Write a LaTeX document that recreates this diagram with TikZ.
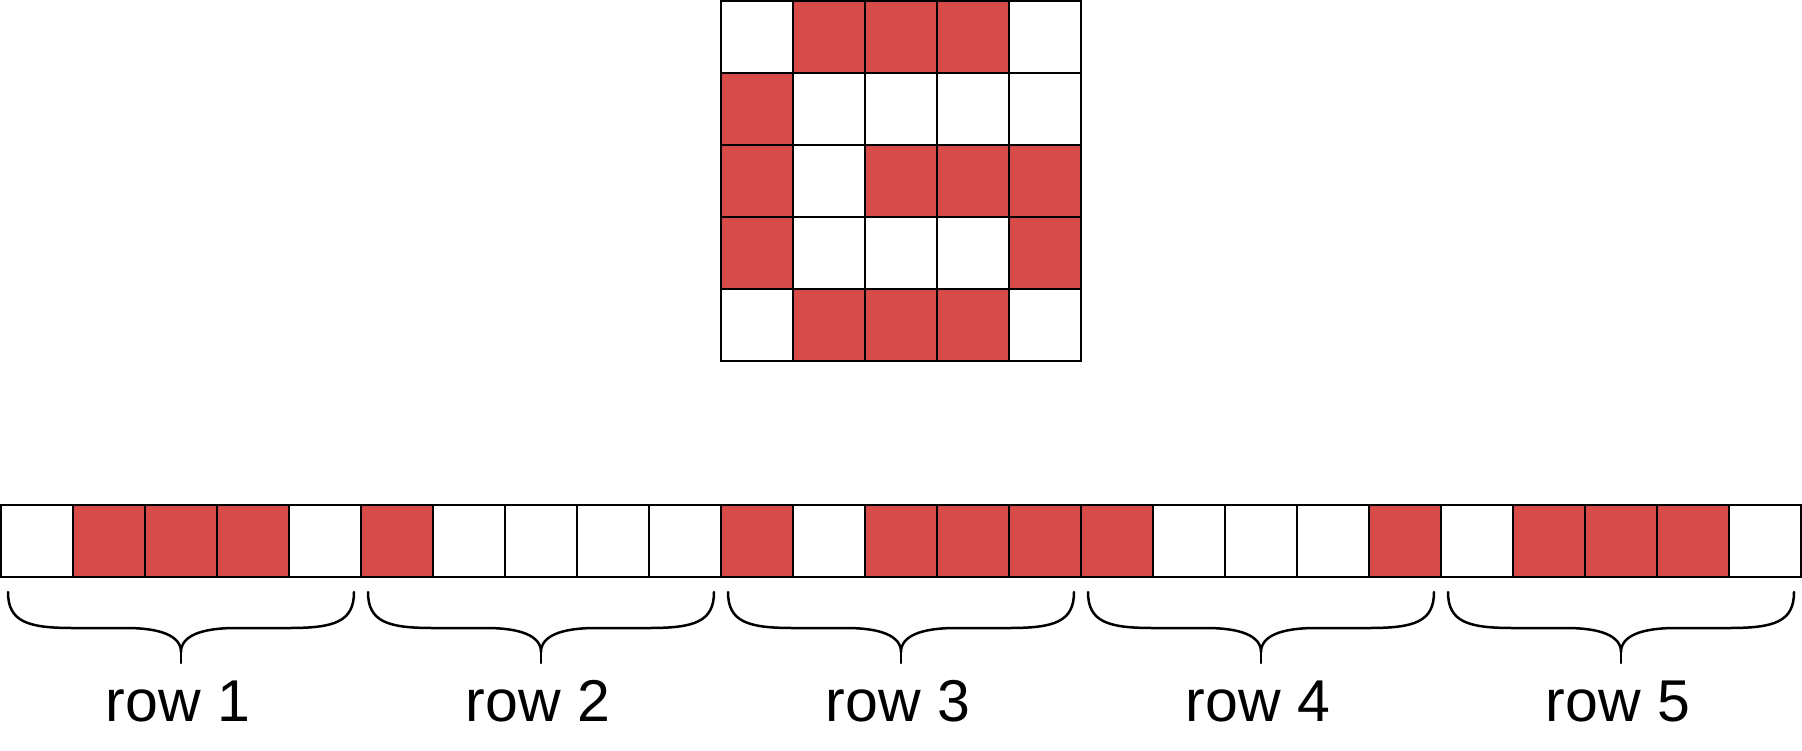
\documentclass[tikz,border=0pt]{standalone}
\usepackage{fontspec}
\setmainfont{Liberation Sans}
\definecolor{cellred}{RGB}{214,74,74}
\begin{document}
\begin{tikzpicture}[x=1pt,y=-1pt,
  cell/.style={draw=black,line width=2pt,minimum size=72pt,inner sep=0pt,outer sep=0pt,anchor=north west},
  on/.style={fill=cellred},
  off/.style={fill=white},
  brace/.style={line width=2.5pt,line cap=round,line join=round},
  lbl/.style={font=\fontsize{59}{62}\selectfont,anchor=base,inner sep=0pt}]
\useasboundingbox (0,0) rectangle (1802,750);
\def\patt{{0,1,1,1,0,1,0,0,0,0,1,0,1,1,1,1,0,0,0,1,0,1,1,1,0}}
\foreach \i in {0,...,24}{
  \pgfmathtruncatemacro\v{\patt[\i]}
  \pgfmathtruncatemacro\r{div(\i,5)}
  \pgfmathtruncatemacro\c{mod(\i,5)}
  \ifnum\v=1 \def\st{on}\else\def\st{off}\fi
  \node[cell,\st] (g-\r-\c) at (721+72*\c,1+72*\r) {};
  \node[cell,\st] (s-\i) at (1+72*\i,505) {};
}
\foreach \k in {0,...,4}{
  \pgfmathsetmacro\xa{8+360*\k}
  \pgfmathsetmacro\xc{181+360*\k}
  \pgfmathsetmacro\xb{354+360*\k}
  \coordinate (bl-\k) at (\xa,592);
  \coordinate (br-\k) at (\xb,592);
  \coordinate (bt-\k) at (\xc,663);
  \draw[brace] (bl-\k) .. controls (\xa,622) and (\xa+20,628) .. (\xa+65,628)
     -- (\xc-55,628) .. controls (\xc-20,628) and (\xc,636) .. (\xc,652)
     .. controls (\xc,636) and (\xc+20,628) .. (\xc+55,628)
     -- (\xb-65,628) .. controls (\xb-20,628) and (\xb,622) .. (br-\k);
  \draw[brace] (\xc,652) -- (bt-\k);
  \pgfmathtruncatemacro\n{\k+1}
  \node[lbl] (lab-\k) at (\xc-3,721) {row \n};
}
\end{tikzpicture}
\end{document}
